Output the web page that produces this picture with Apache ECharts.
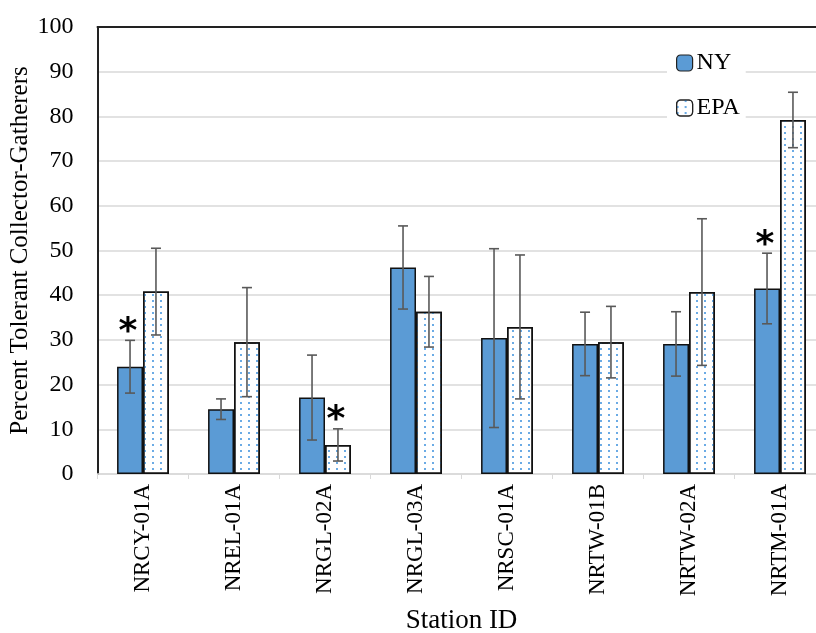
<!DOCTYPE html>
<html><head><meta charset="utf-8">
<script src="https://cdn.jsdelivr.net/npm/echarts@6/dist/echarts.min.js"></script>
<style>html,body{margin:0;padding:0;background:#fff}#c{width:816px;height:633px}</style>
</head><body><div id="c"></div>
<script>
const categories = ['NRCY-01A','NREL-01A','NRGL-02A','NRGL-03A','NRSC-01A','NRTW-01B','NRTW-02A','NRTM-01A'];
const nyValues  = [24.0, 14.5, 17.1, 46.2, 30.4, 29.1, 29.1, 41.5];
const nyErrors  = [5.9, 2.3, 9.5, 9.3, 20.0, 7.1, 7.2, 7.9];
const epaValues = [40.8, 29.5, 6.5, 36.3, 32.9, 29.5, 40.7, 79.2];
const epaErrors = [9.7, 12.2, 3.6, 7.9, 16.1, 8.0, 16.4, 6.2];
const nyStar  = [1, 0, 0, 0, 0, 0, 0, 1];
const epaStar = [0, 0, 1, 0, 0, 0, 0, 0];
const yTicks = [0,10,20,30,40,50,60,70,80,90,100];

const serif = '"Liberation Serif", "DejaVu Serif", serif';
const GAP = 0.43;

const errData = [];
categories.forEach((c, i) => {
  errData.push([i, nyValues[i], nyErrors[i], -1, nyStar[i]]);
  errData.push([i, epaValues[i], epaErrors[i], 1, epaStar[i]]);
});

const chart = echarts.init(document.getElementById('c'));
chart.setOption({
  animation: false,
  grid: { left: 97.5, top: 27, width: 728, height: 447, containLabel: false, outerBoundsMode: 'none' },
  legend: {
    data: ['NY', 'EPA'],
    orient: 'vertical',
    left: 667, top: 45,
    backgroundColor: '#fff',
    padding: [6, 6, 6, 9],
    itemWidth: 16, itemHeight: 16,
    itemGap: 21,
    textStyle: { fontFamily: serif, fontSize: 24, color: '#000', padding: [0, 0, 0, -1] },
    itemStyle: { borderColor: '#222', borderWidth: 1.2 }
  },
  xAxis: [{
    type: 'category',
    data: categories,
    axisLine: { lineStyle: { color: '#d9d9d9', width: 1.5 } },
    axisTick: { show: true, length: 5, lineStyle: { color: '#d9d9d9' } },
    axisLabel: { rotate: 90, margin: 10, fontFamily: serif, fontSize: 23, color: '#000' },
    name: 'Station ID',
    nameLocation: 'middle',
    nameGap: 133,
    nameTextStyle: { fontFamily: serif, fontSize: 27, color: '#000' }
  }, {
    type: 'category',
    data: categories,
    position: 'top',
    axisLine: { show: true, lineStyle: { color: '#222', width: 2 } },
    axisTick: { show: false },
    axisLabel: { show: false }
  }],
  yAxis: {
    type: 'value',
    min: yTicks[0], max: yTicks[yTicks.length - 1], interval: 10,
    axisLine: { show: true, lineStyle: { color: '#222', width: 2 } },
    axisTick: { show: false },
    splitLine: { lineStyle: { color: '#d9d9d9', width: 1.5 } },
    axisLabel: { margin: 24, fontFamily: serif, fontSize: 24, color: '#000' },
    name: 'Percent Tolerant Collector-Gatherers',
    nameLocation: 'middle',
    nameMoveOverlap: false,
    nameGap: 65,
    nameTextStyle: { fontFamily: serif, fontSize: 25, color: '#000' }
  },
  series: [{
    name: 'NY',
    type: 'bar',
    data: nyValues,
    barGap: '0%',
    barCategoryGap: (GAP * 100) + '%',
    itemStyle: { color: '#5b9bd5', borderColor: '#111', borderWidth: 1.5 }
  }, {
    name: 'EPA',
    type: 'bar',
    data: epaValues,
    barGap: '0%',
    barCategoryGap: (GAP * 100) + '%',
    itemStyle: {
      color: '#ffffff', borderColor: '#111', borderWidth: 1.5,
      decal: {
        symbol: 'circle',
        symbolSize: 1,
        color: '#3a8fdc',
        dashArrayX: [2, 6],
        dashArrayY: [2, 4],
        rotation: 0
      }
    }
  }, {
    name: 'err',
    type: 'custom',
    z: 10,
    data: errData,
    encode: { x: 0, y: 1 },
    renderItem: function (params, api) {
      const i = api.value(0), v = api.value(1), e = api.value(2), s = api.value(3), star = api.value(4);
      const cw = api.size([1, 0])[0];
      const bw = cw * (1 - GAP) / 2;
      const off = s * bw / 2;
      const top = api.coord([i, v + e]);
      const bot = api.coord([i, v - e]);
      const x = top[0] + off;
      const cap = 5;
      const st = { stroke: '#595959', lineWidth: 1.6 };
      const children = [
        { type: 'line', shape: { x1: x, y1: top[1], x2: x, y2: bot[1] }, style: st },
        { type: 'line', shape: { x1: x - cap, y1: top[1], x2: x + cap, y2: top[1] }, style: st },
        { type: 'line', shape: { x1: x - cap, y1: bot[1], x2: x + cap, y2: bot[1] }, style: st }
      ];
      if (star) {
        children.push({
          type: 'text',
          style: {
            text: '*', x: x - 2, y: top[1] + 10,
            align: 'center', verticalAlign: 'bottom',
            font: 'bold 36px "DejaVu Sans", sans-serif', fill: '#000'
          }
        });
      }
      return { type: 'group', children: children };
    }
  }]
});
</script></body></html>
